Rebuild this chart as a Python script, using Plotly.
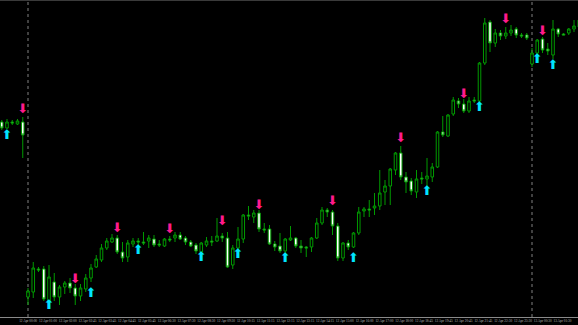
import plotly.graph_objects as go

# ---- data (15-minute bars) ----
bar_index = list(range(111))

open_ = [1.10195, 1.10189, 1.10195, 1.10193, 1.10195,
         1.10020, 1.10025, 1.10048, 1.10048, 1.10016,
         1.10035, 1.10020, 1.10030, 1.10034, 1.10029,
         1.10021, 1.10028, 1.10039, 1.10050, 1.10057,
         1.10069, 1.10075, 1.10079, 1.10065, 1.10060,
         1.10073, 1.10076, 1.10075, 1.10076, 1.10078,
         1.10073, 1.10071, 1.10078, 1.10079, 1.10082,
         1.10079, 1.10075, 1.10072, 1.10065, 1.10072,
         1.10076, 1.10076, 1.10081, 1.10079, 1.10052,
         1.10069, 1.10078, 1.10102, 1.10100, 1.10104,
         1.10088, 1.10088, 1.10073, 1.10071, 1.10066,
         1.10077, 1.10079, 1.10071, 1.10070, 1.10070,
         1.10079, 1.10094, 1.10107, 1.10105, 1.10091,
         1.10059, 1.10074, 1.10070, 1.10084, 1.10106,
         1.10108, 1.10109, 1.10111, 1.10125, 1.10131,
         1.10147, 1.10164, 1.10140, 1.10136, 1.10125,
         1.10139, 1.10138, 1.10140, 1.10150, 1.10185,
         1.10181, 1.10203, 1.10216, 1.10213, 1.10206,
         1.10217, 1.10216, 1.10254, 1.10295, 1.10274,
         1.10284, 1.10281, 1.10284, 1.10288, 1.10282,
         1.10282, 1.10253, 1.10264, 1.10278, 1.10268,
         1.10262, 1.10288, 1.10283, 1.10284, 1.10288, 1.10290]

high = [1.10197, 1.10198, 1.10197, 1.10198, 1.10200,
        1.10029, 1.10055, 1.10050, 1.10051, 1.10052,
        1.10044, 1.10032, 1.10036, 1.10039, 1.10033,
        1.10033, 1.10043, 1.10053, 1.10062, 1.10073,
        1.10079, 1.10083, 1.10082, 1.10075, 1.10077,
        1.10079, 1.10079, 1.10085, 1.10082, 1.10082,
        1.10077, 1.10079, 1.10081, 1.10085, 1.10085,
        1.10081, 1.10077, 1.10074, 1.10075, 1.10080,
        1.10081, 1.10099, 1.10084, 1.10085, 1.10072,
        1.10090, 1.10103, 1.10111, 1.10107, 1.10107,
        1.10094, 1.10092, 1.10076, 1.10084, 1.10079,
        1.10091, 1.10080, 1.10077, 1.10071, 1.10080,
        1.10099, 1.10110, 1.10109, 1.10107, 1.10094,
        1.10075, 1.10077, 1.10085, 1.10110, 1.10110,
        1.10117, 1.10124, 1.10147, 1.10137, 1.10149,
        1.10165, 1.10171, 1.10145, 1.10139, 1.10147,
        1.10145, 1.10159, 1.10154, 1.10186, 1.10201,
        1.10203, 1.10220, 1.10219, 1.10218, 1.10220,
        1.10220, 1.10255, 1.10299, 1.10297, 1.10288,
        1.10287, 1.10290, 1.10292, 1.10290, 1.10284,
        1.10284, 1.10269, 1.10278, 1.10280, 1.10274,
        1.10297, 1.10289, 1.10284, 1.10289, 1.10297, 1.10299]

low = [1.10187, 1.10188, 1.10192, 1.10192, 1.10159,
       1.10012, 1.10019, 1.10045, 1.10016, 1.10014,
       1.10016, 1.10012, 1.10023, 1.10024, 1.10012,
       1.10016, 1.10025, 1.10035, 1.10049, 1.10055,
       1.10067, 1.10074, 1.10063, 1.10055, 1.10055,
       1.10070, 1.10072, 1.10072, 1.10069, 1.10070,
       1.10070, 1.10070, 1.10075, 1.10075, 1.10077,
       1.10072, 1.10070, 1.10063, 1.10064, 1.10070,
       1.10071, 1.10075, 1.10075, 1.10049, 1.10048,
       1.10065, 1.10074, 1.10097, 1.10094, 1.10085,
       1.10084, 1.10072, 1.10066, 1.10064, 1.10063,
       1.10076, 1.10069, 1.10064, 1.10060, 1.10065,
       1.10078, 1.10092, 1.10100, 1.10082, 1.10056,
       1.10056, 1.10067, 1.10069, 1.10082, 1.10100,
       1.10100, 1.10102, 1.10107, 1.10112, 1.10112,
       1.10142, 1.10137, 1.10124, 1.10122, 1.10119,
       1.10133, 1.10130, 1.10135, 1.10149, 1.10180,
       1.10180, 1.10201, 1.10209, 1.10204, 1.10204,
       1.10214, 1.10215, 1.10252, 1.10265, 1.10270,
       1.10277, 1.10278, 1.10281, 1.10279, 1.10279,
       1.10277, 1.10250, 1.10262, 1.10264, 1.10262,
       1.10258, 1.10280, 1.10282, 1.10282, 1.10285, 1.10289]

close = [1.10189, 1.10195, 1.10194, 1.10196, 1.10182,
         1.10026, 1.10049, 1.10047, 1.10018, 1.10040,
         1.10020, 1.10030, 1.10034, 1.10029, 1.10021,
         1.10029, 1.10039, 1.10049, 1.10058, 1.10069,
         1.10076, 1.10079, 1.10065, 1.10059, 1.10074,
         1.10076, 1.10075, 1.10074, 1.10079, 1.10072,
         1.10072, 1.10078, 1.10077, 1.10082, 1.10078,
         1.10075, 1.10071, 1.10066, 1.10074, 1.10076,
         1.10075, 1.10081, 1.10079, 1.10050, 1.10069,
         1.10078, 1.10102, 1.10101, 1.10104, 1.10088,
         1.10087, 1.10073, 1.10070, 1.10066, 1.10078,
         1.10079, 1.10071, 1.10069, 1.10069, 1.10079,
         1.10094, 1.10107, 1.10105, 1.10091, 1.10059,
         1.10074, 1.10070, 1.10084, 1.10105, 1.10108,
         1.10107, 1.10111, 1.10124, 1.10131, 1.10148,
         1.10164, 1.10140, 1.10135, 1.10126, 1.10138,
         1.10138, 1.10141, 1.10150, 1.10185, 1.10182,
         1.10202, 1.10217, 1.10213, 1.10206, 1.10216,
         1.10216, 1.10254, 1.10294, 1.10274, 1.10284,
         1.10281, 1.10284, 1.10287, 1.10282, 1.10281,
         1.10279, 1.10264, 1.10277, 1.10267, 1.10266,
         1.10288, 1.10283, 1.10282, 1.10288, 1.10291, 1.10297]

# signal arrows
sell_index = [4, 14, 22, 32, 42, 49, 63, 76, 88, 96, 103]
sell_price = [1.10207, 1.10037, 1.10088, 1.10087, 1.10095, 1.10111,
              1.10115, 1.10178, 1.10222, 1.10297, 1.10285]
buy_index = [1, 9, 17, 26, 38, 45, 54, 67, 81, 91, 102, 105]
buy_price = [1.10181, 1.10011, 1.10023, 1.10066, 1.10059, 1.10062,
             1.10058, 1.10058, 1.10125, 1.10209, 1.10257, 1.10251]

# day separators (bar index of 00:00)
day_start_index = [5, 101]

# time axis labels
tick_labels = ["11 Apr 23:00", "12 Apr 00:00", "12 Apr 01:00", "12 Apr 02:00",
               "12 Apr 02:45", "12 Apr 03:45", "12 Apr 04:45", "12 Apr 05:45",
               "12 Apr 06:30", "12 Apr 07:30", "12 Apr 08:30", "12 Apr 09:30",
               "12 Apr 10:15", "12 Apr 11:15", "12 Apr 12:15", "12 Apr 13:15",
               "12 Apr 14:15", "12 Apr 15:00", "12 Apr 16:00", "12 Apr 17:00",
               "12 Apr 18:00", "12 Apr 18:45", "12 Apr 19:45", "12 Apr 20:45",
               "12 Apr 21:45", "12 Apr 22:30", "12 Apr 23:30", "13 Apr 00:30",
               "13 Apr 01:30", "13 Apr 02:30"]
tick_pos = [1.25 + 3.77 * k for k in range(len(tick_labels))]

GREEN = "#009a00"
MAGENTA = "#ff1a8c"
CYAN = "#00e5ff"

fig = go.Figure()
fig.add_trace(go.Candlestick(
    x=bar_index, open=open_, high=high, low=low, close=close,
    increasing=dict(line=dict(color=GREEN, width=1), fillcolor="#000000"),
    decreasing=dict(line=dict(color=GREEN, width=1), fillcolor="#ffffff"),
    whiskerwidth=0, hoverinfo="skip", showlegend=False))

fig.add_trace(go.Scatter(
    x=sell_index, y=sell_price, mode="text", text=["\u2b07"] * len(sell_index),
    textposition="middle center",
    textfont=dict(color=MAGENTA, size=13, family="DejaVu Sans"),
    hoverinfo="skip", showlegend=False))
fig.add_trace(go.Scatter(
    x=buy_index, y=buy_price, mode="text", text=["\u2b06"] * len(buy_index),
    textposition="middle center",
    textfont=dict(color=CYAN, size=13, family="DejaVu Sans"),
    hoverinfo="skip", showlegend=False))

shapes = []
for d in day_start_index:
    shapes.append(dict(type="line", xref="x", yref="paper", x0=d, x1=d, y0=0, y1=1,
                       line=dict(color="#808080", width=1, dash="dot"), layer="below"))
shapes.append(dict(type="line", xref="paper", yref="paper", x0=0, x1=1, y0=1, y1=1,
                   line=dict(color="#3a3a3a", width=2)))

fig.update_layout(
    width=578, height=325,
    margin=dict(l=0, r=0, t=0, b=8),
    paper_bgcolor="#000000", plot_bgcolor="#000000",
    showlegend=False,
    shapes=shapes,
    xaxis=dict(range=[-0.333, 109.76], showgrid=False, zeroline=False,
               showline=True, linecolor="#8a8a8a", linewidth=1,
               tickmode="array", tickvals=tick_pos, ticktext=tick_labels,
               tickangle=0, ticks="",
               tickfont=dict(size=3.4, color="#b8b8b8", family="Liberation Sans Narrow"),
               rangeslider=dict(visible=False), fixedrange=True),
    yaxis=dict(range=[1.10000, 1.10317], showgrid=False, zeroline=False,
               showticklabels=False, showline=False, fixedrange=True),
)

fig.write_html("out.html", config={"displayModeBar": False})
